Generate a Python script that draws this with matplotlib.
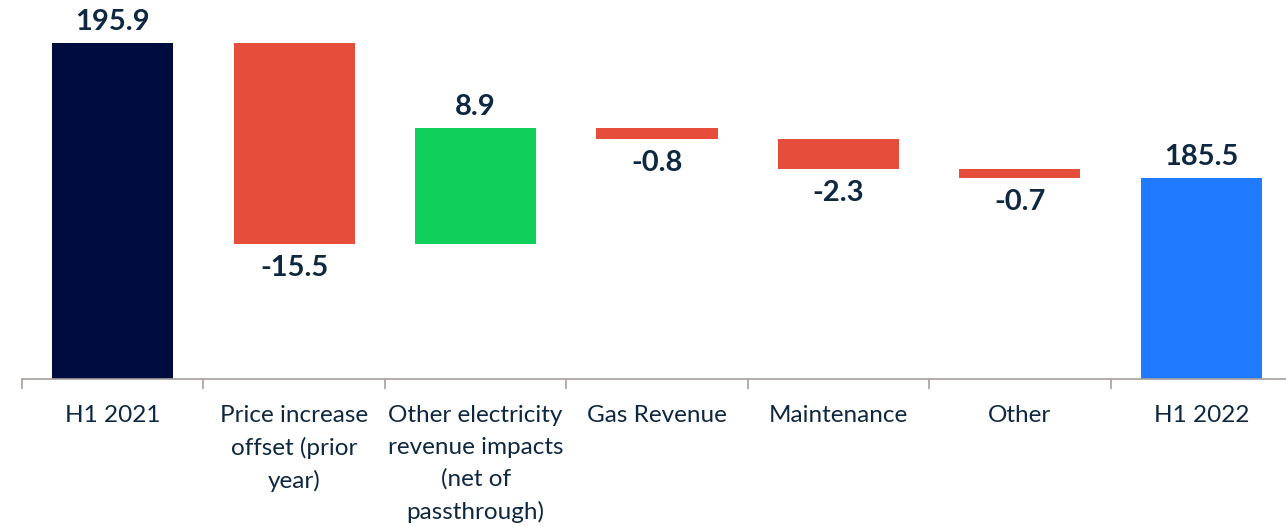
import matplotlib.pyplot as plt
import numpy as np

plt.rcParams['font.family'] = ['Lato', 'DejaVu Sans']

categories = ['H1 2021', 'Price increase\noffset (prior\nyear)',
              'Other electricity\nrevenue impacts\n(net of\npassthrough)',
              'Gas Revenue', 'Maintenance', 'Other', 'H1 2022']
values = [195.9, -15.5, 8.9, -0.8, -2.3, -0.7, 185.5]
is_total = [True, False, False, False, False, False, True]
value_labels = ['195.9', '-15.5', '8.9', '-0.8', '-2.3', '-0.7', '185.5']

navy = '#000C3E'
red = '#E64D3A'
green = '#10CF5A'
blue = '#1F7AFF'
txt = '#0E2841'

fig = plt.figure(figsize=(12.86, 5.26), dpi=100)
ax = fig.add_axes([22/1286, 0.2795, 1270/1286, 0.7205])

x = np.arange(len(categories))
running = 0
for i, (v, tot) in enumerate(zip(values, is_total)):
    if tot:
        bottom, height = 0, v
        col = navy if i == 0 else blue
        running = v
        top = v
    else:
        bottom = running if v > 0 else running + v
        height = abs(v)
        col = green if v > 0 else red
        running += v
        top = bottom + height
    ax.bar(x[i], height, bottom=bottom, width=0.667, color=col, zorder=2)
    if v > 0:
        ax.annotate(value_labels[i], (x[i], top), xytext=(0, 8), textcoords='offset pixels',
                    ha='center', va='bottom', fontsize=21, fontweight='bold', color=txt)
    else:
        ax.annotate(value_labels[i], (x[i], bottom), xytext=(0, -11), textcoords='offset pixels',
                    ha='center', va='top', fontsize=21, fontweight='bold', color=txt)

ax.set_ylim(170, 199.2)
ax.set_xlim(-0.5, 6.5)
ax.set_yticks([])
for s in ['top', 'right', 'left']:
    ax.spines[s].set_visible(False)
ax.spines['bottom'].set_color('#A6A09C')
ax.spines['bottom'].set_linewidth(1.2)

ax.set_xticks(x)
ax.set_xticklabels(categories, fontsize=17.5, color=txt, linespacing=1.6)
ax.tick_params(axis='x', which='major', length=0, pad=19)
ax.set_xticks(np.arange(-0.5, 7, 1), minor=True)
ax.tick_params(axis='x', which='minor', length=7, width=1.2, color='#A6A09C', direction='out')

plt.savefig('out.png', dpi=100)
